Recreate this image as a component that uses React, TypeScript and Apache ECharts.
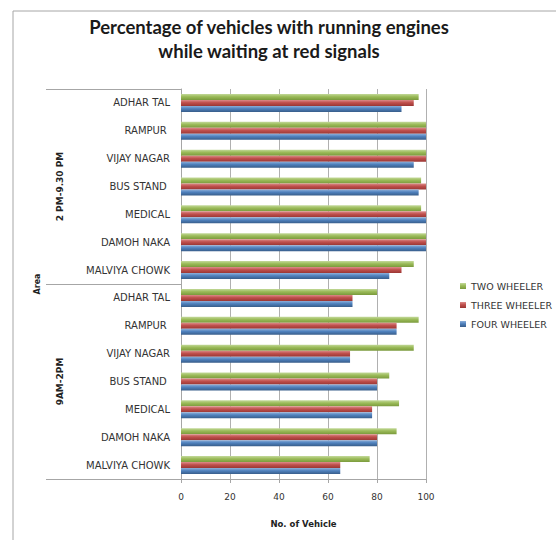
import React, { useEffect, useRef } from "react";
import * as echarts from "echarts";

const title = "Percentage of vehicles with running engines\nwhile waiting at red signals";
const areas = ["ADHAR TAL", "RAMPUR ", "VIJAY NAGAR", "BUS STAND ", "MEDICAL", "DAMOH NAKA", "MALVIYA CHOWK"];
const periods = ["2 PM-9.30 PM", "9AM-2PM"];
const categories = [...areas, ...areas];
const twoWheeler = [97, 100, 100, 98, 98, 100, 95, 80, 97, 95, 85, 89, 88, 77];
const threeWheeler = [95, 100, 100, 100, 100, 100, 90, 70, 88, 69, 80, 78, 80, 65];
const fourWheeler = [90, 100, 95, 97, 100, 100, 85, 70, 88, 69, 80, 78, 80, 65];
const seriesNames = ["TWO WHEELER", "THREE WHEELER", "FOUR WHEELER"];
const seriesColors = [
  ["#c3d99a", "#9bbb59", "#7a9a3c"],
  ["#dc8c8a", "#c0504d", "#9a3633"],
  ["#8eb0da", "#4f81bd", "#385d8a"],
];
const xTicks = { min: 0, max: 100, interval: 20 };

export default function App() {
  const ref = useRef<HTMLDivElement>(null);
  useEffect(() => {
    document.body.style.margin = "0";
    const chart = echarts.init(ref.current!, null, { renderer: "svg" });
    const font = "DejaVu Sans";
    const mk = (name: string, data: number[], i: number) => ({
      name,
      type: "bar",
      yAxisIndex: 0,
      data,
      barWidth: 6,
      barGap: "0%",
      itemStyle: {
        color: new echarts.graphic.LinearGradient(0, 0, 0, 1, [
          { offset: 0, color: seriesColors[i][0] },
          { offset: 0.45, color: seriesColors[i][1] },
          { offset: 1, color: seriesColors[i][2] },
        ]),
      },
    });
    chart.setOption({
      animation: false,
      title: {
        text: title,
        left: 264,
        top: 10,
        textAlign: "center",
        textStyle: { fontFamily: "Lato", fontWeight: "bold", fontSize: 18.5, lineHeight: 24, color: "#1a1a1a" },
      },
      legend: {
        data: seriesNames,
        orient: "vertical",
        left: 455,
        top: 276,
        itemWidth: 6,
        itemHeight: 6,
        itemGap: 9,
        icon: "rect",
        textStyle: { fontFamily: font, fontSize: 9.5, color: "#333" },
      },
      graphic: [
        {
          type: "rect",
          shape: { x: 13, y: 11, width: 700, height: 700 },
          style: { fill: "none", stroke: "#a6a6a6", lineWidth: 1 },
          silent: true,
        },
      ],
      grid: { left: 181, right: 130, top: 89, bottom: 61 },
      xAxis: {
        type: "value",
        ...xTicks,
        name: "No. of Vehicle",
        nameLocation: "middle",
        nameGap: 40,
        nameTextStyle: { fontFamily: font, fontSize: 8.5, fontWeight: "bold", color: "#222" },
        axisLine: { show: true, lineStyle: { color: "#a6a6a6" } },
        axisTick: { show: true, length: 4, lineStyle: { color: "#a6a6a6" } },
        axisLabel: { fontFamily: font, fontSize: 9, color: "#333", margin: 13 },
        splitLine: { show: true, lineStyle: { color: "#b0b0b0" } },
      },
      yAxis: [
        {
          type: "category",
          data: categories,
          inverse: true,
          name: "Area",
          nameLocation: "middle",
          nameRotate: 90,
          nameGap: 140,
          nameTextStyle: { fontFamily: font, fontSize: 8, fontWeight: "bold", color: "#222" },
          axisLine: { show: true, lineStyle: { color: "#a6a6a6" } },
          axisTick: { show: false },
          axisLabel: { fontFamily: font, fontSize: 10, color: "#333", margin: 11, interval: 0 },
        },
        {
          type: "category",
          data: periods,
          inverse: true,
          position: "left",
          offset: 135,
          axisLine: { show: false },
          axisTick: { show: true, inside: true, length: 135, lineStyle: { color: "#a6a6a6" } },
          axisLabel: {
            inside: true,
            rotate: 90,
            margin: 9,
            fontFamily: font,
            fontSize: 9,
            fontWeight: "bold",
            color: "#222",
          },
        },
      ],
      series: [
        mk(seriesNames[0], twoWheeler, 0),
        mk(seriesNames[1], threeWheeler, 1),
        mk(seriesNames[2], fourWheeler, 2),
      ],
    });
    return () => chart.dispose();
  }, []);
  return <div ref={ref} style={{ width: 556, height: 540 }} />;
}
